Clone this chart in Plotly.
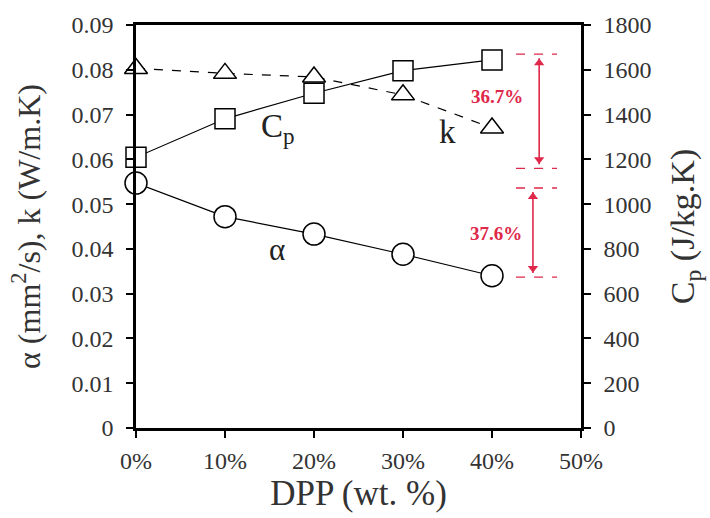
import plotly.graph_objects as go

dpp = [0, 10, 20, 30, 40]
alpha = [0.0547, 0.0472, 0.0433, 0.0388, 0.0340]
k_vals = [0.0803, 0.0792, 0.0784, 0.0744, 0.0670]
cp_vals = [1209, 1381, 1495, 1596, 1644]

x_ticks = [0, 10, 20, 30, 40, 50]
x_labels = ["0%", "10%", "20%", "30%", "40%", "50%"]
y_ticks = [0, 0.01, 0.02, 0.03, 0.04, 0.05, 0.06, 0.07, 0.08, 0.09]
y_labels = ["0", "0.01", "0.02", "0.03", "0.04", "0.05", "0.06", "0.07", "0.08", "0.09"]

FONT = "Liberation Serif, Times New Roman, serif"
RED = "#e0284a"

fig = go.Figure()

mk = dict(size=20, color="white", line=dict(color="black", width=1.5))

fig.add_trace(go.Scatter(x=dpp, y=k_vals, mode="lines+markers", name="k",
                         line=dict(color="black", width=1.2, dash="dash"),
                         marker=dict(symbol="triangle-up", **mk), yaxis="y",
                         cliponaxis=False))
fig.add_trace(go.Scatter(x=dpp, y=alpha, mode="lines+markers", name="α",
                         line=dict(color="black", width=1.2),
                         marker=dict(symbol="circle", size=22, color="white",
                                     line=dict(color="black", width=1.5)), yaxis="y",
                         cliponaxis=False))
fig.add_trace(go.Scatter(x=dpp, y=cp_vals, mode="lines+markers", name="Cp",
                         line=dict(color="black", width=1.2),
                         marker=dict(symbol="square", **mk), yaxis="y2",
                         cliponaxis=False))

# red bracket guides
bx0, bx1 = 42.7, 47.3
for yv, ref in [(1670, "y2"), (1160, "y2"), (0.0536, "y"), (0.0337, "y")]:
    fig.add_shape(type="line", xref="x", yref=ref, x0=bx0, x1=bx1, y0=yv, y1=yv,
                  line=dict(color=RED, width=1.3, dash="dash"))

# double-headed arrows (line + arrowhead markers)
for xa, ytop, ybot, ax_ref, off in [(45.3, 1670, 1160, "y2", 18),
                                    (44.6, 0.0536, 0.0337, "y", 0.0009)]:
    fig.add_trace(go.Scatter(x=[xa, xa], y=[ytop - off, ybot + off], mode="lines",
                             line=dict(color=RED, width=1.6), yaxis=ax_ref,
                             hoverinfo="skip"))
    fig.add_trace(go.Scatter(x=[xa, xa], y=[ytop - 2.2 * off, ybot + 2.2 * off],
                             mode="markers", yaxis=ax_ref, hoverinfo="skip",
                             marker=dict(symbol=["triangle-up", "triangle-down"],
                                         size=9, color=RED, line=dict(width=0))))

fig.add_annotation(x=40.6, y=1480, xref="x", yref="y2", text="<b>36.7%</b>",
                   showarrow=False, font=dict(family=FONT, size=19, color=RED))
fig.add_annotation(x=40.4, y=0.0435, xref="x", yref="y", text="<b>37.6%</b>",
                   showarrow=False, font=dict(family=FONT, size=19, color=RED))

# series labels
fig.add_annotation(x=15.9, y=0.0668, xref="x", yref="y", text="C<sub>p</sub>",
                   showarrow=False, font=dict(family=FONT, size=33, color="#222"))
fig.add_annotation(x=35.0, y=0.0660, xref="x", yref="y", text="k",
                   showarrow=False, font=dict(family=FONT, size=33, color="#222"))
fig.add_annotation(x=15.8, y=0.0398, xref="x", yref="y", text="α",
                   showarrow=False, font=dict(family=FONT, size=31, color="#222"))

axis_common = dict(showgrid=False, zeroline=False, showline=True, linecolor="black",
                   linewidth=2.5, ticks="outside", ticklen=7, tickwidth=2,
                   tickcolor="black", tickfont=dict(family=FONT, size=24, color="#333"))

fig.update_layout(
    width=710, height=518,
    margin=dict(l=136, r=129, t=23, b=90),
    plot_bgcolor="white", paper_bgcolor="white",
    showlegend=False,
    font=dict(family=FONT, color="#333"),
    xaxis=dict(range=[0, 50], tickvals=x_ticks, ticktext=x_labels, mirror=True,
               ticklabelstandoff=2,
               title=dict(text="DPP (wt. %)", font=dict(family=FONT, size=35, color="#333"),
                          standoff=4),
               **axis_common),
    yaxis=dict(range=[0, 0.09], tickvals=y_ticks, ticktext=y_labels,
               ticklabelstandoff=8,
               title=dict(text="α (mm<sup>2</sup>/s), k (W/m.K)",
                          font=dict(family=FONT, size=32, color="#333"), standoff=22),
               **axis_common),
    yaxis2=dict(range=[0, 1800], dtick=200, overlaying="y", side="right",
                ticklabelstandoff=8,
                title=dict(text="C<sub>p</sub> (J/kg.K)",
                           font=dict(family=FONT, size=34, color="#333"), standoff=20),
                **axis_common),
)

fig.write_html("out.html")
